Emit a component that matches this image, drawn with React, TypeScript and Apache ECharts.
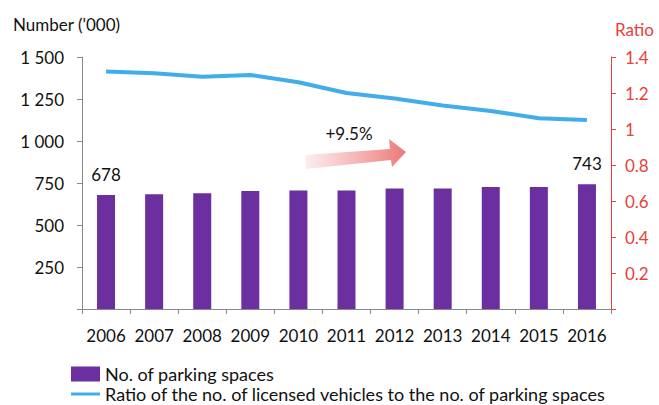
import React, { useEffect, useRef } from "react";
import * as echarts from "echarts";

const years = ["2006", "2007", "2008", "2009", "2010", "2011", "2012", "2013", "2014", "2015", "2016"];
const parkingSpaces = [678, 683, 689, 702, 706, 706, 718, 718, 726, 726, 743];
const ratio = [1.32, 1.31, 1.29, 1.3, 1.26, 1.2, 1.17, 1.13, 1.1, 1.06, 1.05];
const barName = "No. of parking spaces";
const lineName = "Ratio of the no. of licensed vehicles to the no. of parking spaces";
const growthText = "+9.5%";

const FONT = "Lato, 'Open Sans', sans-serif";
const RED = "#e8403a";
const PURPLE = "#6b2fa0";
const BLUE = "#42ade8";

export default function App() {
  const ref = useRef<HTMLDivElement>(null);
  useEffect(() => {
    if (!ref.current) return;
    const chart = echarts.init(ref.current, undefined, { renderer: "svg" });
    const last = years.length - 1;
    chart.setOption({
      animation: false,
      textStyle: { fontFamily: FONT },
      grid: { left: 82, right: 48, top: 57, bottom: 96, containLabel: false },
      xAxis: {
        type: "category",
        data: years,
        axisLine: { lineStyle: { color: "#888", width: 1 } },
        axisTick: { show: true, length: 5, lineStyle: { color: "#888" } },
        axisLabel: { color: "#111", fontSize: 17, fontFamily: FONT, margin: 18, interval: 0 },
      },
      yAxis: [
        {
          type: "value",
          min: 0,
          max: 1500,
          interval: 250,
          name: "Number ('000)",
          nameLocation: "end",
          nameGap: 24,
          nameTextStyle: { color: "#111", fontSize: 17, fontFamily: FONT, align: "left", padding: [0, 0, 0, -69] },
          axisLine: { show: true, lineStyle: { color: "#888" } },
          axisTick: { show: true, length: 5, lineStyle: { color: "#888" } },
          splitLine: { show: false },
          axisLabel: {
            color: "#111",
            fontSize: 17,
            fontFamily: FONT,
            margin: 18,
            formatter: (v: number) => (v === 0 ? "" : String(v).replace(/\B(?=(\d{3})+(?!\d))/g, " ")),
          },
        },
        {
          type: "value",
          min: 0,
          max: 1.4,
          interval: 0.2,
          position: "right",
          name: "Ratio",
          nameLocation: "end",
          nameGap: 19,
          nameTextStyle: { color: RED, fontSize: 17, fontFamily: FONT, align: "left", padding: [0, 0, 0, 4] },
          axisLine: { show: true, lineStyle: { color: RED } },
          axisTick: { show: true, length: 5, lineStyle: { color: RED } },
          splitLine: { show: false },
          axisLabel: {
            color: RED,
            fontSize: 17,
            fontFamily: FONT,
            margin: 14,
            formatter: (v: number) => (v === 0 ? "" : String(+v.toFixed(1))),
          },
        },
      ],
      legend: [
        {
          orient: "vertical",
          left: 66,
          top: 360,
          itemWidth: 29,
          itemHeight: 15,
          textStyle: { color: "#111", fontSize: 18, fontFamily: FONT },
          data: [{ name: barName, icon: "rect" }],
        },
        {
          orient: "vertical",
          left: 66,
          top: 380,
          itemWidth: 29,
          itemHeight: 3,
          textStyle: { color: "#111", fontSize: 18, fontFamily: FONT },
          data: [{ name: lineName, icon: "rect" }],
        },
      ],
      series: [
        {
          name: barName,
          type: "bar",
          yAxisIndex: 0,
          barWidth: 18,
          itemStyle: { color: PURPLE },
          data: parkingSpaces.map((v, i) => ({
            value: v,
            label: {
              show: i === 0 || i === last,
              position: "top",
              distance: 12,
              color: "#111",
              fontSize: 17,
              fontFamily: FONT,
            },
          })),
        },
        {
          name: lineName,
          type: "line",
          yAxisIndex: 1,
          symbol: "none",
          showSymbol: false,
          lineStyle: { color: BLUE, width: 4 },
          itemStyle: { color: BLUE },
          data: ratio.map((v, i) => ({
            value: v,
            symbol: "none",
            label: {
              show: i === 0 || i === last,
              position: "top",
              distance: i === 0 ? 5 : 9,
              offset: i === 0 ? [12, 0] : [0, 0],
              color: RED,
              fontSize: 17,
              fontFamily: FONT,
              formatter: (p: any) => p.value.toFixed(2),
            },
          })),
        },
      ],
      graphic: [
        {
          type: "polygon",
          shape: {
            points: [
              [305, 155],
              [390, 149],
              [389, 139],
              [406, 152],
              [392, 167],
              [391, 160],
              [306, 169],
            ],
          },
          style: {
            fill: {
              type: "linear",
              x: 0,
              y: 0,
              x2: 1,
              y2: 0,
              colorStops: [
                { offset: 0, color: "rgba(240,140,140,0.15)" },
                { offset: 1, color: "rgba(236,120,120,1)" },
              ],
            },
          },
        },
        {
          type: "text",
          x: 349,
          y: 133,
          style: {
            text: growthText,
            fill: "#111",
            fontSize: 17,
            fontFamily: FONT,
            align: "center",
            verticalAlign: "middle",
          },
        },
      ],
    });
    return () => chart.dispose();
  }, []);
  return <div ref={ref} style={{ position: "absolute", left: 0, top: 0, width: 659, height: 405 }} />;
}
